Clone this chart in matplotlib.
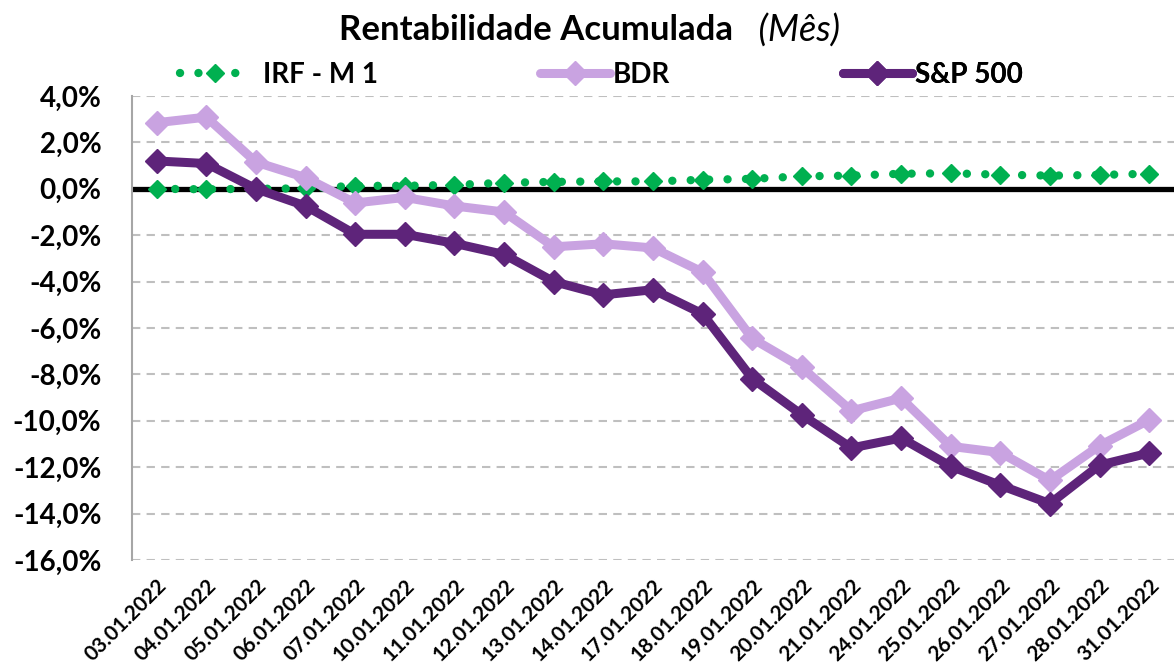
import matplotlib
matplotlib.use('Agg')
import matplotlib.pyplot as plt
import numpy as np
from matplotlib.ticker import FuncFormatter

# datas (eixo de categorias)
datas = ['03.01.2022', '04.01.2022', '05.01.2022', '06.01.2022', '07.01.2022',
         '10.01.2022', '11.01.2022', '12.01.2022', '13.01.2022', '14.01.2022',
         '17.01.2022', '18.01.2022', '19.01.2022', '20.01.2022', '21.01.2022',
         '24.01.2022', '25.01.2022', '26.01.2022', '27.01.2022', '28.01.2022',
         '31.01.2022']

# rentabilidade acumulada (%)
irf_m1 = [0.00, -0.02, 0.00, 0.02, 0.13, 0.13, 0.17, 0.26, 0.30, 0.32,
          0.32, 0.39, 0.43, 0.54, 0.57, 0.65, 0.67, 0.61, 0.57, 0.60, 0.65]
bdr = [2.85, 3.09, 1.15, 0.48, -0.61, -0.37, -0.74, -1.00, -2.50, -2.37,
       -2.55, -3.59, -6.45, -7.70, -9.57, -9.02, -11.10, -11.37, -12.57,
       -11.07, -9.96]
sp500 = [1.20, 1.09, 0.00, -0.74, -1.96, -1.96, -2.35, -2.83, -4.00, -4.57,
         -4.35, -5.39, -8.18, -9.74, -11.17, -10.74, -11.96, -12.78, -13.57,
         -11.91, -11.39]

FONTE = ['Lato', 'DejaVu Sans']
plt.rcParams['font.family'] = FONTE

fig = plt.figure(figsize=(11.74, 6.71), dpi=100)
ax = fig.add_axes([0.1124, 0.1654, 0.8876, 0.6915])

x = np.arange(len(datas))

# linha zero preta
ax.axhline(0, color='#000000', linewidth=3.8, zorder=2)

l_irf, = ax.plot(x, irf_m1, color='#00B050', linewidth=6, linestyle=(0, (0.01, 2.2)),
                 dash_capstyle='round', marker='D', markersize=9.5, zorder=3)
l_bdr, = ax.plot(x, bdr, color='#C9A3E1', linewidth=6.5, marker='D', markersize=12,
                 solid_capstyle='round', zorder=4)
l_sp, = ax.plot(x, sp500, color='#5E247A', linewidth=6.5, marker='D', markersize=12,
                solid_capstyle='round', zorder=5)

ax.set_xlim(-0.5, len(datas) - 0.5)
ax.set_ylim(-16, 4)
ax.set_yticks(np.arange(-16, 4.1, 2))
ax.yaxis.set_major_formatter(FuncFormatter(lambda v, p: f'{v:.1f}%'.replace('.', ',')))
ax.grid(axis='y', color='#BFBFBF', linestyle=(0, (4, 3)), linewidth=1.5)
ax.set_axisbelow(True)

for s in ['top', 'right', 'bottom']:
    ax.spines[s].set_visible(False)
ax.spines['left'].set_color('#A6A6A6')
ax.spines['left'].set_linewidth(1.5)

ax.set_xticks(x)
ax.set_xticklabels(datas, rotation=45, ha='right', rotation_mode='anchor',
                   fontsize=15, fontweight='bold')
ax.tick_params(axis='x', length=0, pad=11)
ax.tick_params(axis='y', length=0, pad=22, labelsize=20)
for t in ax.get_yticklabels():
    t.set_fontweight('bold')

# legenda: uma entrada por vez, como no Excel
entradas = [(l_irf, 'IRF - M 1', 0.046, 0.5), (l_bdr, 'BDR', 0.392, 0.1),
            (l_sp, 'S&P 500', 0.682, 0.1)]
for linha, nome, xpos, gap in entradas:
    lg = ax.legend([linha], [nome], loc='center left', bbox_to_anchor=(xpos, 1.045),
                   frameon=False, prop={'weight': 'bold', 'size': 20},
                   handlelength=2.5, handletextpad=gap, borderpad=0,
                   borderaxespad=0)
    ax.add_artist(lg)

fig.text(0.624, 0.955, 'Rentabilidade Acumulada', ha='right', va='center',
         fontsize=25, fontweight='bold')
fig.text(0.624, 0.955, '   (Mês)', ha='left', va='center', fontsize=26,
         style='italic')

fig.savefig('out.png', dpi=100)
